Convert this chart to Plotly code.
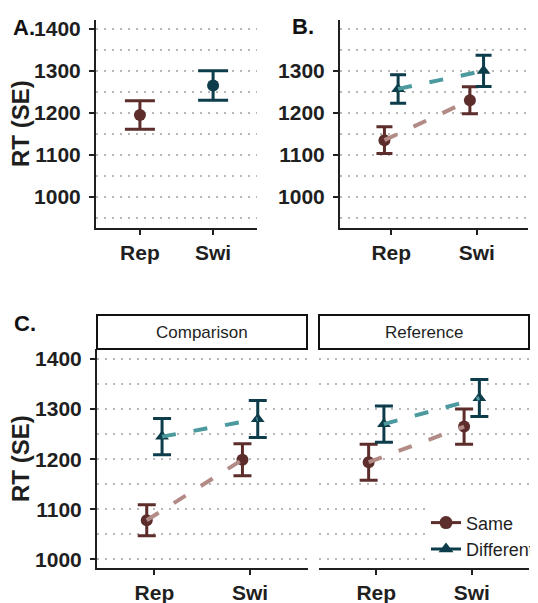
import plotly.graph_objects as go

# ---------------- data ----------------
conditions = ["Rep", "Swi"]
groups = ["Same", "Different"]

# Panel A: overall by condition
a_mean = [1195, 1265]
a_se = [34, 35]

# Panel B: by condition and group
b_same_mean = [1135, 1230]
b_same_se = [32, 32]
b_diff_mean = [1257, 1300]
b_diff_se = [34, 37]

# Panel C: facets
facets = ["Comparison", "Reference"]
c_comp_same_mean = [1078, 1199]
c_comp_same_se = [31, 32]
c_comp_diff_mean = [1245, 1280]
c_comp_diff_se = [36, 37]
c_ref_same_mean = [1194, 1265]
c_ref_same_se = [36, 35]
c_ref_diff_mean = [1270, 1322]
c_ref_diff_se = [36, 37]

# ---------------- style ----------------
W, H = 538, 603
OFF = 8  # page body margin offset
SAME_DARK = "#5C2D2A"
DIFF_DARK = "#0D3D4A"
SAME_LINE = "#B38B86"
DIFF_LINE = "#4C9A9E"
TXT = "#1f1f1f"
FONT = "Liberation Sans, Arial, sans-serif"
GRID = "#b8b8b8"
DODGE = 0.08

def fx(x):
    return (x - OFF) / W

def fy(y):
    return 1 - (y - OFF) / H

def px_x(a, b):
    return [fx(a), fx(b)]

def px_y(top, bottom):
    return [fy(bottom), fy(top)]

fig = go.Figure()

def add_group(xa, ya, mean, se, dark, light, symbol, dodge, capw):
    xs = [i + 1 + dodge for i in range(len(conditions))]
    fig.add_trace(go.Scatter(x=xs, y=mean, mode="markers", xaxis=xa, yaxis=ya,
                             marker=dict(color=dark, size=12, symbol=symbol),
                             error_y=dict(type="data", array=se, color=dark,
                                          thickness=3, width=capw),
                             showlegend=False))
    fig.add_trace(go.Scatter(x=xs, y=mean, mode="lines", xaxis=xa, yaxis=ya,
                             line=dict(color=light, width=4, dash="14px,18px"),
                             showlegend=False, hoverinfo="skip"))

# Panel A: each condition its own colour
for i, (c, col) in enumerate(zip(conditions, [SAME_DARK, DIFF_DARK])):
    fig.add_trace(go.Scatter(x=[i + 1], y=[a_mean[i]], mode="markers",
                             xaxis="x", yaxis="y",
                             marker=dict(color=col, size=12, symbol="circle"),
                             error_y=dict(type="data", array=[a_se[i]], color=col,
                                          thickness=3, width=15),
                             showlegend=False))

# Panel B
add_group("x2", "y2", b_same_mean, b_same_se, SAME_DARK, SAME_LINE, "circle", -DODGE, 8)
add_group("x2", "y2", b_diff_mean, b_diff_se, DIFF_DARK, DIFF_LINE, "triangle-up", DODGE, 8)

# Panel C
add_group("x3", "y3", c_comp_same_mean, c_comp_same_se, SAME_DARK, SAME_LINE, "circle", -DODGE, 9)
add_group("x3", "y3", c_comp_diff_mean, c_comp_diff_se, DIFF_DARK, DIFF_LINE, "triangle-up", DODGE, 9)
add_group("x4", "y4", c_ref_same_mean, c_ref_same_se, SAME_DARK, SAME_LINE, "circle", -DODGE, 9)
add_group("x4", "y4", c_ref_diff_mean, c_ref_diff_se, DIFF_DARK, DIFF_LINE, "triangle-up", DODGE, 9)

# legend entries
for g, col, sym in zip(groups, [SAME_DARK, DIFF_DARK], ["circle", "triangle-up"]):
    fig.add_trace(go.Scatter(x=[None], y=[None], mode="lines+markers", name=g,
                             xaxis="x4", yaxis="y4",
                             marker=dict(color=col, size=13, symbol=sym),
                             line=dict(color=col, width=3)))

def xaxis(domain, anchor):
    return dict(domain=domain, anchor=anchor, range=[0.4, 2.6], automargin=False,
                tickmode="array", tickvals=[1, 2], ticktext=conditions,
                showline=True, linecolor=TXT, linewidth=2, ticks="outside",
                ticklen=5, tickwidth=1.5, tickcolor=TXT, showgrid=False, zeroline=False,
                tickfont=dict(family=FONT, size=21, color=TXT, weight="bold"),
                ticklabelstandoff=0, fixedrange=True)

def yaxis(domain, anchor, rng, tickvals, size, show_line=True):
    return dict(domain=domain, anchor=anchor, range=rng, automargin=False,
                tickmode="array", tickvals=tickvals,
                ticktext=[str(v) for v in tickvals],
                showticklabels=show_line,
                showline=show_line, linecolor=TXT, linewidth=2,
                ticks="outside" if show_line else "", ticklen=5, tickwidth=1.5, tickcolor=TXT,
                showgrid=True, gridcolor=GRID, gridwidth=1.5, griddash="1.5px,6.5px",
                minor=dict(tickmode="linear", tick0=0, dtick=50, showgrid=True,
                           gridcolor=GRID, gridwidth=1.5, griddash="1.5px,6.5px", ticks=""),
                zeroline=False,
                tickfont=dict(family=FONT, size=size, color=TXT, weight="bold"),
                ticklabelstandoff=4, fixedrange=True)

top_dom = px_y(20, 228)
bot_dom = px_y(349, 568)

fig.update_layout(
    width=W, height=H, margin=dict(l=0, r=0, t=0, b=0, autoexpand=False),
    paper_bgcolor="white", plot_bgcolor="white",
    xaxis=xaxis(px_x(96, 257), "y"),
    yaxis=yaxis(top_dom, "x", [926, 1421], [1000, 1100, 1200, 1300, 1400], 21),
    xaxis2=xaxis(px_x(340, 528), "y2"),
    yaxis2=yaxis(top_dom, "x2", [926, 1421], [1000, 1100, 1200, 1300], 21),
    xaxis3=xaxis(px_x(97, 307.5), "y3"),
    yaxis3=yaxis(bot_dom, "x3", [982.6, 1420], [1000, 1100, 1200, 1300, 1400], 21),
    xaxis4=xaxis(px_x(319, 529), "y4"),
    yaxis4=yaxis(bot_dom, "x4", [982.6, 1420], [1000, 1100, 1200, 1300, 1400], 21, show_line=False),
    showlegend=True,
    legend=dict(x=fx(426), y=fy(494), xanchor="left", yanchor="top",
                bgcolor="white", borderwidth=0,
                title=dict(text=" ", font=dict(size=8)),
                font=dict(family=FONT, size=18, color=TXT),
                itemwidth=30, tracegroupgap=0),
)

# facet strips
for (x0, x1), lab in zip([(97, 307), (319, 529)], facets):
    fig.add_shape(type="rect", xref="paper", yref="paper",
                  x0=fx(x0), x1=fx(x1), y0=fy(349), y1=fy(315),
                  line=dict(color="#111111", width=2), fillcolor="white", layer="above")
    fig.add_annotation(x=fx((x0 + x1) / 2), y=fy(332), xref="paper", yref="paper",
                       text=lab, showarrow=False, xanchor="center", yanchor="middle",
                       font=dict(family=FONT, size=17, color=TXT))

# y titles
for yc in [124, 459]:
    fig.add_annotation(x=fx(20), y=fy(yc), xref="paper", yref="paper",
                       text="RT (SE)", textangle=-90, showarrow=False,
                       xanchor="center", yanchor="middle",
                       font=dict(family=FONT, size=24, color=TXT, weight="bold"))

# panel labels
for lab, xc, yc in [("A.", 24, 28), ("B.", 303, 27), ("C.", 25, 323)]:
    fig.add_annotation(x=fx(xc), y=fy(yc), xref="paper", yref="paper",
                       text=lab, showarrow=False, xanchor="center", yanchor="middle",
                       font=dict(family=FONT, size=22, color="#111111", weight="bold"))

fig.write_html("out.html")
